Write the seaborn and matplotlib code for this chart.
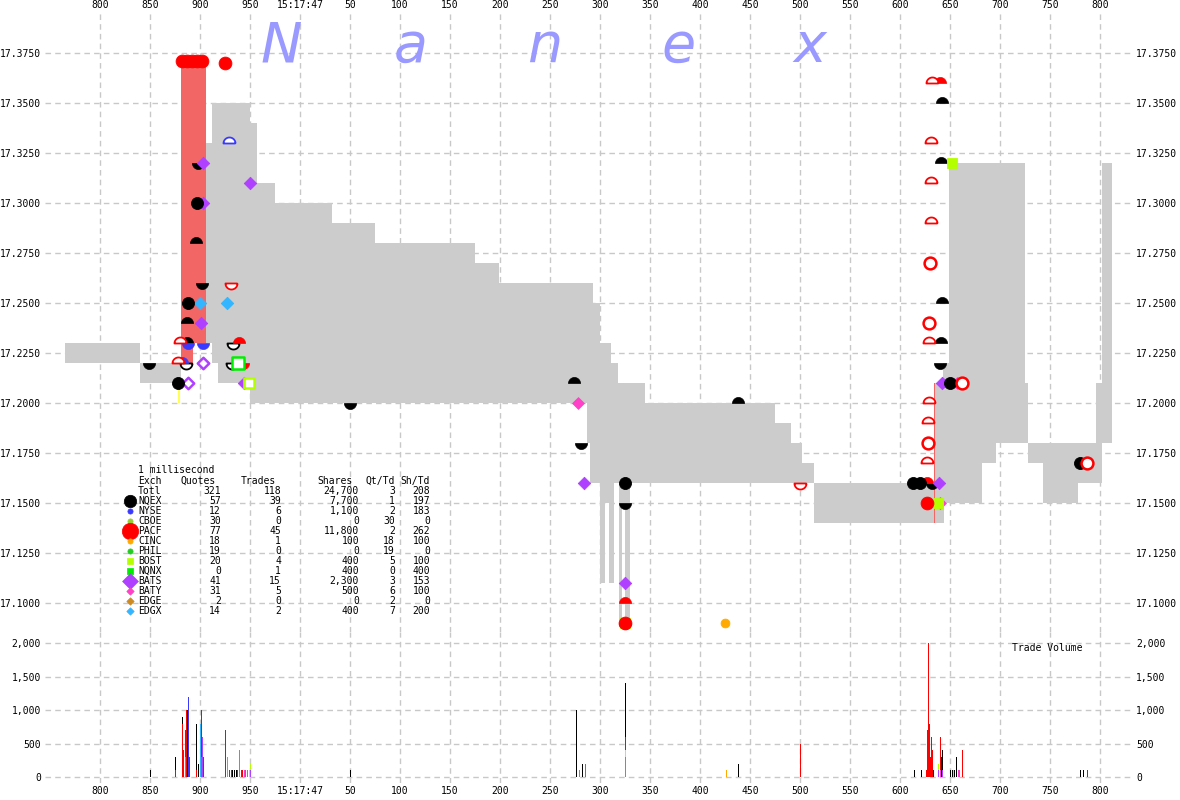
import numpy as np
import pandas as pd
import matplotlib
matplotlib.use("Agg")
import matplotlib.pyplot as plt
import seaborn as sns
from matplotlib.path import Path

# ---------------- data ----------------
# NBBO segments: start time (ms relative to 15:17:47.000), the last value closes the final segment
seg_t = [-235, -160, -119, -107, -94, -88, -82, -50, -43, -25, 32, 75, 175, 199, 287, 290, 293, 300,
         305, 309, 311, 314, 318, 319, 322, 325, 330, 345, 475, 491, 502, 514, 634, 635, 643, 644,
         649, 682, 696, 725, 728, 743, 778, 796, 802, 812]
seg_bid = [17.22, 17.21, 17.37, 17.37, 17.23, 17.22, 17.21, 17.20, 17.20, 17.20, 17.20, 17.20, 17.20,
           17.20, 17.18, 17.16, 17.16, 17.11, 17.15, 17.11, 17.11, 17.16, 17.16, 17.088, 17.15, 17.088,
           17.16, 17.16, 17.16, 17.16, 17.16, 17.14, 17.21, 17.14, 17.14, 17.15, 17.15, 17.17, 17.18,
           17.18, 17.17, 17.15, 17.16, 17.16, 17.18]
seg_ask = [17.23, 17.22, 17.22, 17.23, 17.33, 17.35, 17.35, 17.34, 17.31, 17.30, 17.29, 17.28, 17.27,
           17.26, 17.26, 17.26, 17.25, 17.23, 17.23, 17.23, 17.22, 17.22, 17.21, 17.21, 17.21, 17.21,
           17.21, 17.20, 17.19, 17.18, 17.17, 17.16, 17.14, 17.21, 17.22, 17.22, 17.32, 17.32, 17.32,
           17.21, 17.18, 17.18, 17.18, 17.21, 17.32]

# locked quote flash
lock_t = [-121]
lock_lo = [17.20]
lock_hi = [17.21]

# exchanges
ex_names = ["NQEX", "NYSE", "CBOE", "PACF", "CINC", "PHIL", "BOST", "NQNX", "BATS", "BATY", "EDGE", "EDGX"]
ex_quotes = [57, 12, 30, 77, 18, 19, 20, 0, 41, 31, 2, 14]
ex_trades = [39, 6, 0, 45, 1, 0, 4, 1, 15, 5, 0, 2]
ex_shares = [7700, 1100, 0, 11800, 100, 0, 400, 400, 2300, 500, 0, 400]
ex_qt_td = [1, 2, 30, 2, 18, 19, 5, 0, 3, 6, 2, 7]
ex_sh_td = [197, 183, 0, 262, 100, 0, 100, 400, 153, 100, 0, 200]
tot_quotes, tot_trades, tot_shares, tot_qt_td, tot_sh_td = 321, 118, 24700, 3, 208

# trades on the price chart
trade_t = [-118, -113, -108, -103, -98, -75, 627, 630, 629, 628, 662, 787,
           -112, -103, -122, 325, 613, 620, 650, 780,
           -100, -73,
           -97, -97, -99, -50, -56, 284, 325, 642, 639, -112, -97,
           278, 657, 640,
           652, 638, 325, -51,
           -62,
           425, 325]
trade_p = [17.371, 17.371, 17.371, 17.371, 17.371, 17.37, 17.15, 17.27, 17.24, 17.18, 17.21, 17.17,
           17.25, 17.30, 17.21, 17.16, 17.16, 17.16, 17.21, 17.17,
           17.25, 17.25,
           17.32, 17.30, 17.24, 17.31, 17.21, 17.16, 17.11, 17.21, 17.16, 17.21, 17.22,
           17.20, 17.21, 17.15,
           17.32, 17.15, 17.09, 17.21,
           17.22,
           17.09, 17.09]
trade_ex = ["PACF"] * 12 + ["NQEX"] * 8 + ["EDGX"] * 2 + ["BATS"] * 11 + ["BATY"] * 3 + \
           ["BOST"] * 4 + ["NQNX"] + ["CINC", "PACF"]
trade_kind = ["fill"] * 7 + ["open"] * 5 + ["fill"] * 8 + ["fill"] * 2 + ["fill"] * 9 + ["open"] * 2 + \
             ["fill"] * 3 + ["fill"] * 3 + ["open"] + ["open"] + ["fill", "fill"]

# quotes (bid = dome above price, ask = bowl below price)
quote_t = [-104, -113, -113, 274, 438, 642, 641, 642, 641,
           -61, 640, 325, 627, -118,
           632, 631, 631, 631, 629, 629, 628, 627, -122, -120, -71,
           -151, -98, -102, 50, 281, 325, 640, 632, -112, -97, -57, 325,
           -114, -67, -68, -69, 500]
quote_p = [17.28, 17.23, 17.24, 17.21, 17.20, 17.35, 17.32, 17.25, 17.23,
           17.23, 17.36, 17.10, 17.16, 17.22,
           17.36, 17.33, 17.31, 17.29, 17.23, 17.20, 17.19, 17.17, 17.22, 17.23, 17.33,
           17.22, 17.26, 17.32, 17.20, 17.18, 17.15, 17.22, 17.16, 17.23, 17.23, 17.22, 17.09,
           17.22, 17.23, 17.22, 17.26, 17.16]
quote_ex = ["NQEX"] * 9 + ["PACF"] * 4 + ["NYSE"] + ["PACF"] * 10 + ["NYSE"] + \
           ["NQEX"] * 8 + ["NYSE"] * 2 + ["PACF"] * 2 + ["NQEX"] * 3 + ["PACF"] * 2
quote_kind = ["bid"] * 14 + ["bid_open"] * 11 + ["ask"] * 12 + ["ask_open"] * 5

# trade volume (ms, exchange, shares)
vol_t = [-150, -125, -125, -118, -118, -117, -117, -115, -115, -114, -113, -112, -111, -104, -104, -102,
         -100, -99, -99, -98, -97, -97, -75, -73, -71, -69, -68, -66, -64, -63, -61, -59, -58, -56, -55,
         -53, -51, -50, -50, 50, 276, 279, 282, 285, 325, 325, 325, 325, 426, 438, 500, 614, 621, 626,
         627, 628, 629, 630, 631, 632, 633, 638, 638, 640, 640, 641, 642, 642, 650, 652, 653, 654, 656,
         658, 659, 662, 780, 783, 787]
vol_ex = ["NQEX", "NQEX", "PACF", "NQEX", "PACF", "NYSE", "PACF", "PACF", "BATY", "PACF", "NQEX", "NYSE",
          "NYSE", "NQEX", "PACF", "NQEX", "EDGX", "PACF", "BATS", "BATS", "PACF", "NYSE", "PACF", "EDGX",
          "NYSE", "PACF", "NQEX", "NQEX", "NQEX", "PACF", "NQNX", "NYSE", "PACF", "BATY", "BATS", "BATY",
          "BOST", "BOST", "BATS", "NQEX", "NQEX", "BATY", "NQEX", "BATS", "NQEX", "PACF", "BOST", "BATY",
          "CINC", "NQEX", "PACF", "NQEX", "NQEX", "PACF", "PACF", "PACF", "PACF", "PACF", "PACF", "PACF",
          "NQEX", "BOST", "BATS", "PACF", "BATY", "NQEX", "NQEX", "BATS", "NQEX", "NQEX", "BOST", "NQEX",
          "NQEX", "BATY", "BATY", "PACF", "NQEX", "NQEX", "PACF"]
vol_sz = [100, 200, 100, 100, 800, 300, 100, 400, 300, 1000, 1000, 1200, 300, 700, 100, 200,
          800, 700, 300, 600, 200, 100, 700, 300, 100, 100, 100, 100, 100, 100, 400, 100, 100, 100, 100,
          100, 100, 100, 100, 100, 1000, 100, 200, 200, 800, 200, 100, 300, 100, 200, 500, 100, 100, 100,
          700, 2000, 800, 300, 600, 400, 100, 100, 100, 500, 100, 300, 300, 100, 100, 100, 100, 100, 300,
          100, 100, 400, 100, 100, 100]

x_ticks = [-200, -150, -100, -50, 0, 50, 100, 150, 200, 250, 300, 350, 400, 450, 500, 550, 600, 650,
           700, 750, 800]
x_labels = ["800", "850", "900", "950", "15:17:47", "50", "100", "150", "200", "250", "300", "350",
            "400", "450", "500", "550", "600", "650", "700", "750", "800"]
price_ticks = [17.100, 17.125, 17.150, 17.175, 17.200, 17.225, 17.250, 17.275, 17.300, 17.325, 17.350,
               17.375]
vol_ticks = [0, 500, 1000, 1500, 2000]

# ---------------- style ----------------
sns.set_theme(style="white")
plt.rcParams["font.family"] = ["DejaVu Sans Mono", "DejaVu Sans"]
plt.rcParams["font.size"] = 7

ex_colors = {"NQEX": "#000000", "NYSE": "#3a3aff", "CBOE": "#99cc33", "PACF": "#ff0000",
             "CINC": "#ffaa00", "PHIL": "#22cc22", "BOST": "#b4ff00", "NQNX": "#00ee00",
             "BATS": "#b040ff", "BATY": "#ff40c8", "EDGE": "#cc8a20", "EDGX": "#33b5ff"}
ex_shape = {"NQEX": "o", "NYSE": "o", "CBOE": "o", "PACF": "o", "CINC": "o", "PHIL": "o",
            "BOST": "s", "NQNX": "s", "BATS": "D", "BATY": "D", "EDGE": "D", "EDGX": "D"}
ex_size = {"NQEX": 75, "NYSE": 40, "CBOE": 40, "PACF": 85, "CINC": 40, "PHIL": 40,
           "BOST": 55, "NQNX": 80, "BATS": 40, "BATY": 36, "EDGE": 36, "EDGX": 40}

th = np.linspace(0, np.pi, 30)
dome = Path(np.vstack([np.column_stack([np.cos(th), np.sin(th)]), [[1, 0]]]))
bowl = Path(np.vstack([np.column_stack([np.cos(th), -np.sin(th)]), [[1, 0]]]))

W, H = 1180, 800
fig = plt.figure(figsize=(W / 100, H / 100), dpi=100)
fig.patch.set_facecolor("white")

def fx(px):
    return px / W

def fy(py):
    return 1 - py / H

ax_left, ax_right = 45, 1132
p_top, p_bot = 12, 632
v_bot = 783
axp = fig.add_axes([fx(ax_left), fy(p_bot), fx(ax_right - ax_left), (p_bot - p_top) / H])
axv = fig.add_axes([fx(ax_left), fy(v_bot), fx(ax_right - ax_left), (v_bot - p_bot) / H], sharex=axp)

x_lo, x_hi = ax_left - 300, ax_right - 300
y_p = lambda py: 17.375 - (py - 53.3) / 2000.0
y_v = lambda py: (777.0 - py) / 66.85 * 1000.0

grid_kw = dict(color="#c8c8c8", linestyle=(0, (4, 3)), linewidth=1.0)
for ax in (axp, axv):
    ax.set_facecolor("none")
    for s in ax.spines.values():
        s.set_visible(False)
    ax.set_axisbelow(True)
    ax.grid(True, **grid_kw)

# ---------------- NBBO band ----------------
t0 = np.array(seg_t[:-1], dtype=float)
t1 = np.array(seg_t[1:], dtype=float)
bid = np.array(seg_bid)
ask = np.array(seg_ask)
crossed = bid > ask
lo = np.minimum(bid, ask)
hi = np.maximum(bid, ask)
axp.bar(t0[~crossed], (hi - lo)[~crossed], bottom=lo[~crossed], width=(t1 - t0)[~crossed],
        align="edge", color="#cccccc", linewidth=0, antialiased=False, zorder=2)
axp.bar(t0[crossed], (hi - lo)[crossed], bottom=lo[crossed], width=(t1 - t0)[crossed],
        align="edge", color="#f26666", linewidth=0, antialiased=False, zorder=2)
axp.vlines(lock_t, lock_lo, lock_hi, color="#ffff55", linewidth=1.5, zorder=3)

# ---------------- trades ----------------
tdf = pd.DataFrame({"t": trade_t, "p": trade_p, "ex": trade_ex, "kind": trade_kind})
for (ex, kind), g in tdf.groupby(["ex", "kind"]):
    c = ex_colors[ex]
    if kind == "fill":
        sns.scatterplot(data=g, x="t", y="p", marker=ex_shape[ex], s=ex_size[ex], color=c,
                        edgecolor=c, linewidth=0.6, ax=axp, zorder=5, legend=False)
    else:
        axp.scatter(g["t"], g["p"], marker=ex_shape[ex], s=ex_size[ex] * 0.85, facecolors="white",
                    edgecolors=c, linewidths=1.8, zorder=5)

# ---------------- quotes ----------------
qdf = pd.DataFrame({"t": quote_t, "p": quote_p, "ex": quote_ex, "kind": quote_kind})
for (ex, kind), g in qdf.groupby(["ex", "kind"]):
    c = ex_colors[ex]
    mk = dome if kind.startswith("bid") else bowl
    if kind.endswith("open"):
        axp.scatter(g["t"], g["p"], marker=mk, s=75, facecolors="white", edgecolors=c,
                    linewidths=1.3, zorder=4)
    else:
        axp.scatter(g["t"], g["p"], marker=mk, s=75, facecolors=c, edgecolors=c,
                    linewidths=0.5, zorder=4)

axp.set_xlim(x_lo, x_hi)
axp.set_ylim(y_p(p_bot), y_p(p_top))
axp.set_yticks(price_ticks)
axp.set_yticklabels([f"{v:.4f}" for v in price_ticks])
axp.set_xlabel("")
axp.set_ylabel("")
axp.tick_params(axis="y", left=False, right=False, length=0, labelleft=True, labelright=True, pad=3,
                labelsize=7, colors="black")

# ---------------- volume ----------------
vdf = pd.DataFrame({"t": vol_t, "ex": vol_ex, "v": vol_sz})
present = [e for e in ex_names if e in set(vol_ex)]
sns.histplot(data=vdf, x="t", weights="v", hue="ex", hue_order=present, palette=ex_colors,
             multiple="stack", discrete=True, shrink=1.0, element="bars", fill=True, alpha=1,
             linewidth=0, antialiased=False, legend=False, ax=axv, zorder=3)
axv.set_ylim(y_v(v_bot), y_v(p_bot))
axv.set_yticks(vol_ticks)
axv.set_yticklabels([f"{v:,}" for v in vol_ticks])
axv.set_xlim(x_lo, x_hi)
axv.set_xlabel("")
axv.set_ylabel("")
axv.tick_params(axis="y", left=False, right=False, length=0, labelleft=True, labelright=True, pad=3,
                labelsize=7, colors="black")

# shared x ticks: labels on top of price panel and bottom of volume panel
axv.set_xticks(x_ticks)
axv.set_xticklabels(x_labels)
axv.tick_params(axis="x", top=False, bottom=False, length=0, labeltop=False, labelbottom=True, pad=2,
                labelsize=7, colors="black")
axp.tick_params(axis="x", top=False, bottom=False, length=0, labeltop=True, labelbottom=False, pad=1.5,
                labelsize=7, colors="black")

# ---------------- overlay: watermark, table, labels ----------------
ov = fig.add_axes([0, 0, 1, 1], zorder=10)
ov.set_xlim(0, W)
ov.set_ylim(H, 0)
ov.axis("off")
ov.patch.set_alpha(0)

for ch, cx in zip("Nanex", [281, 411, 545, 679, 810]):
    ov.text(cx, 62, ch, fontsize=40, color="#9999ff", style="italic", ha="center", va="baseline",
            family="DejaVu Sans")

ov.text(1012, 648, "Trade Volume", fontsize=7, ha="left", va="center", color="black")

tx = dict(fontsize=7, va="center", color="black")
ov.text(138, 470, "1 millisecond", ha="left", **tx)
ov.text(138, 481, "Exch", ha="left", **tx)
for lab, xr in zip(["Quotes", "Trades", "Shares", "Qt/Td", "Sh/Td"], [216, 276, 353, 395, 430]):
    ov.text(xr, 481, lab, ha="right", **tx)
col_x = [221, 281, 359, 395, 430]
ov.text(138, 491, "Totl", ha="left", **tx)
for v, xr in zip([f"{tot_quotes}", f"{tot_trades}", f"{tot_shares:,}", f"{tot_qt_td}", f"{tot_sh_td}"],
                 col_x):
    ov.text(xr, 491, v, ha="right", **tx)

leg_size = {"NQEX": 80, "PACF": 140, "BATS": 65}
for i, ex in enumerate(ex_names):
    yy = 501 + 10 * i
    ov.scatter([130], [yy], marker=ex_shape[ex], s=leg_size.get(ex, 14), color=ex_colors[ex],
               edgecolors=ex_colors[ex], linewidths=0.5, zorder=3)
    ov.text(138, yy, ex, ha="left", **tx)
    vals = [f"{ex_quotes[i]}", f"{ex_trades[i]}", f"{ex_shares[i]:,}", f"{ex_qt_td[i]}", f"{ex_sh_td[i]}"]
    for v, xr in zip(vals, col_x):
        ov.text(xr, yy, v, ha="right", **tx)

fig.savefig("out.png", dpi=100, facecolor="white")
